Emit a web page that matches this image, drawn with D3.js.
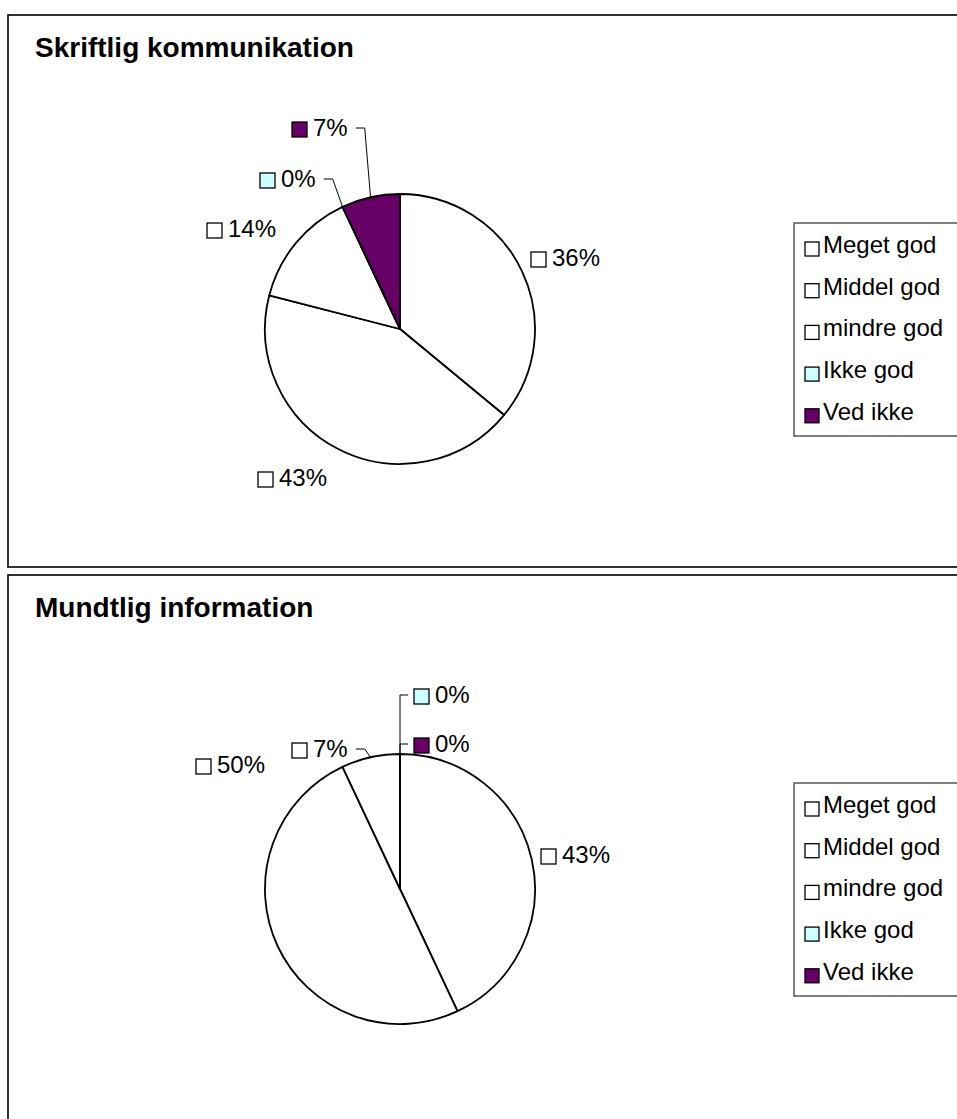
<!DOCTYPE html>
<html>
<head>
    <meta charset="utf-8">
    <title>Skriftlig kommunikation / Mundtlig information</title>
    <script type="text/javascript" src="https://d3js.org/d3.v7.min.js"></script>
    <style type="text/css">
        body { margin: 0; background: #fff; }
        text { font-family: "Liberation Sans", Arial, sans-serif; fill: #000; }
    </style>
</head>
<body>
<script type="text/javascript">

    // data
    var categories = ["Meget god", "Middel god", "mindre god", "Ikke god", "Ved ikke"];
    var colors = ["#FFFFFF", "#FFFFFF", "#FFFFFF", "#CCFFFF", "#660066"];
    var titles = ["Skriftlig kommunikation", "Mundtlig information"];
    var skriftligValues = [36, 43, 14, 0, 7];
    var mundtligValues = [43, 50, 7, 0, 0];

    // label layout: square top-left relative to pie centre, and whether a leader line is drawn
    var skriftligLabels = [[131, -77, false], [-142, 143, false], [-193, -106, false], [-140, -156, true], [-108, -207, true]];
    var mundtligLabels = [[141, -40, false], [-204, -130, false], [-108, -146, true], [14, -200, true], [14, -151, true]];

    var width = 957, height = 1119;
    var radius = 135;

    var svg = d3.select("body").append("svg")
        .attr("width", width)
        .attr("height", height);

    var color = d3.scaleOrdinal().domain(categories).range(colors);
    var pct = d3.format(".0%");

    function drawChart(top, title, values, labels, frameHeight) {
        var g = svg.append("g").attr("transform", "translate(0," + top + ")");

        g.append("rect")
            .attr("x", 8).attr("y", 15)
            .attr("width", 1000).attr("height", frameHeight)
            .attr("fill", "none")
            .attr("stroke", "#000")
            .attr("stroke-width", 1.6);

        g.append("text")
            .attr("x", 35).attr("y", 57)
            .style("font-size", "28px")
            .style("font-weight", "bold")
            .text(title);

        var total = d3.sum(values);
        var pie = d3.pie().sort(null).value(function(d) { return d.value; });
        var arcs = pie(categories.map(function(c, i) { return { name: c, value: values[i] }; }));
        var arc = d3.arc().innerRadius(0).outerRadius(radius);
        var edge = d3.arc().innerRadius(radius).outerRadius(radius);

        var pieG = g.append("g").attr("transform", "translate(400,329)");

        pieG.selectAll("path")
            .data(arcs)
            .enter().append("path")
            .attr("d", arc)
            .attr("fill", function(d) { return color(d.data.name); })
            .attr("stroke", "#000")
            .attr("stroke-width", 1.8)
            .attr("stroke-linejoin", "round");

        arcs.forEach(function(d, i) {
            var lx = labels[i][0], ly = labels[i][1];
            var lab = pieG.append("g");
            lab.append("rect")
                .attr("x", lx).attr("y", ly)
                .attr("width", 15).attr("height", 15)
                .attr("fill", color(d.data.name))
                .attr("stroke", "#000")
                .attr("stroke-width", 1.3);
            var t = lab.append("text")
                .attr("x", lx + 21).attr("y", ly + 14)
                .style("font-size", "24px")
                .text(pct(d.data.value / total));

            if (labels[i][2]) {
                var p = edge.centroid(d);
                var textEnd = lx + 21 + t.node().getComputedTextLength();
                var yy = ly + 6;
                var pts;
                if (p[0] > textEnd) {
                    var x0 = textEnd + 8;
                    pts = [[x0, yy], [Math.min(x0 + 9, p[0]), yy], p];
                } else {
                    var x1 = lx - 6;
                    pts = [[x1, yy], [Math.max(x1 - 8, p[0]), yy], p];
                }
                pieG.append("path")
                    .attr("d", d3.line()(pts))
                    .attr("fill", "none")
                    .attr("stroke", "#000")
                    .attr("stroke-width", 1);
            }
        });

        // legend
        var leg = g.append("g");
        leg.append("rect")
            .attr("x", 794).attr("y", 223)
            .attr("width", 200).attr("height", 213)
            .attr("fill", "#fff")
            .attr("stroke", "#555")
            .attr("stroke-width", 1.5);

        var rows = leg.selectAll(".row")
            .data(categories)
            .enter().append("g")
            .attr("class", "row")
            .attr("transform", function(d, i) { return "translate(0," + (253 + i * 41.7) + ")"; });
        rows.append("rect")
            .attr("x", 805).attr("y", -11)
            .attr("width", 14).attr("height", 14)
            .attr("fill", function(d) { return color(d); })
            .attr("stroke", "#000")
            .attr("stroke-width", 1.3);
        rows.append("text")
            .attr("x", 823).attr("y", 0)
            .style("font-size", "24px")
            .text(function(d) { return d; });
    }

    drawChart(0, titles[0], skriftligValues, skriftligLabels, 552);
    drawChart(560, titles[1], mundtligValues, mundtligLabels, 800);

</script>
</body>
</html>
